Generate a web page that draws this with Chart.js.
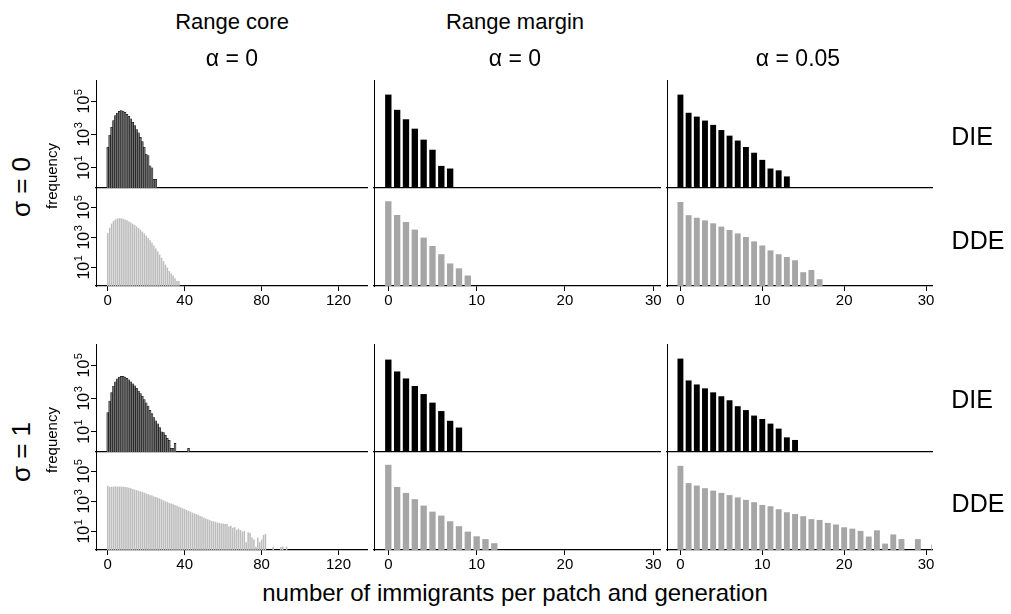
<!DOCTYPE html>
<html>
<head>
<meta charset="utf-8">
<script src="https://cdn.jsdelivr.net/npm/chart.js@4/dist/chart.umd.min.js"></script>
<style>
body { margin: 0; background: #fff; width: 1011px; height: 614px; position: relative; overflow: hidden; font-family: "Liberation Sans", Arial, sans-serif; }
canvas { position: absolute; }
.t { position: absolute; white-space: nowrap; color: #000; z-index: 2; line-height: 1; }
</style>
</head>
<body>
<script>
// tick values / labels
const xTicksCore = [0, 40, 80, 120];
const xTicksMargin = [0, 10, 20, 30];
const yTickValues = [10, 1000, 100000];
const yTickLabels = [['10', '1'], ['10', '3'], ['10', '5']];  // base, exponent

// frequency of each number of immigrants (index = immigrants), sigma = 0
const dieCoreS0 = [170, 950, 2800, 7100, 14000, 20000, 26000, 28000, 27000, 22000, 17000, 13000, 8900, 5600, 3500, 2000, 1300, 690, 380, 170, 68, 54, 13, 10, 2, 2];
const ddeCoreS0 = [2000, 4500, 8500, 12600, 16000, 18600, 19500, 19500, 18200, 16200, 14100, 12000, 10000, 8300, 6800, 5500, 4300, 3300, 2500, 1900, 1350, 950, 660, 450, 300, 190, 120, 74, 45, 27, 16, 10, 6, 4, 3, 2, 1.3, 1.3];
const dieMarginS0 = [263000, 31600, 8500, 2300, 500, 123, 13, 9];
const ddeMarginS0 = [263000, 32000, 11000, 3400, 1000, 275, 78, 19, 9, 3];
const dieMigS0 = [263000, 21000, 12300, 7100, 3900, 1900, 870, 440, 180, 81, 30, 9, 7, 3];
const ddeMigS0 = [234000, 31000, 21000, 14000, 8900, 5400, 3200, 1900, 1100, 560, 300, 140, 78, 51, 31, 5, 7, 1.7];

// sigma = 1
const dieCoreS1 = [145, 720, 2300, 5800, 10500, 16000, 20000, 22000, 22000, 20000, 16600, 13800, 10500, 7900, 6000, 4200, 2900, 2000, 1400, 870, 550, 350, 200, 126, 72, 46, 30, 18, 10, 9, 6, 4, 3, 1, 1, 2, null, null, null, null, null, null, 1];
const ddeCoreS1 = [11200, 9500, 9800, 10000, 10200, 10200, 10000, 10000, 9800, 9500, 8900, 8300, 7600, 6900, 6300, 5800, 5200, 4800, 4400, 4000, 3500, 3200, 2800, 2500, 2200, 2000, 1800, 1600, 1400, 1200, 1050, 930, 830, 740, 660, 590, 520, 460, 400, 355, 316, 275, 240, 214, 186, 166, 148, 126, 112, 100, 85, 76, 66, 59, 52, 48, 45, 40, 38, 35, 35, 32, 32, 22, 25, 18, 20, 13, 16, 13, 10, 11, 2, 9, 8, 4, 3, 1, 4, 2, 3, 6, 7, null, null, null, 1, null, null, null, 1, 1, null, 1];
const dieMarginS1 = [229000, 44000, 16600, 5800, 1900, 575, 178, 46, 18];
const ddeMarginS1 = [282000, 9500, 3800, 1450, 540, 214, 117, 49, 23, 10, 4.9, 3.2, 1.7];
const dieMigS1 = [263000, 12600, 7200, 4200, 2400, 1400, 800, 350, 204, 95, 59, 31, 15.5, 4.6, 3.2];
const ddeMigS1 = [240000, 17000, 11700, 7800, 5400, 3800, 2700, 1900, 1300, 910, 600, 490, 310, 195, 151, 107, 68, 60, 38, 30, 19.5, 15.8, 11.2, 4.7, 12.3, 1.6, 6.5, 3.2, null, 3.2, null, 1.4];

Chart.defaults.font.family = '"Liberation Sans", Arial, sans-serif';
Chart.defaults.color = '#000';

const panelData = [
    [dieCoreS0, dieMarginS0, dieMigS0],
    [ddeCoreS0, ddeMarginS0, ddeMigS0],
    [dieCoreS1, dieMarginS1, dieMigS1],
    [ddeCoreS1, ddeMarginS1, ddeMigS1]
];

// bar styles per column
const dieStyle = [
    {bg: '#6e6e6e', border: '#000', bw: 0.5, pct: 1},
    {bg: '#000', border: '#000', bw: 0, pct: 0.72},
    {bg: '#000', border: '#000', bw: 0, pct: 0.72}
];
const ddeStyle = [
    {bg: '#bdbdbd', border: '#bdbdbd', bw: 0, pct: 0.8},
    {bg: '#a6a6a6', border: '#a6a6a6', bw: 0, pct: 0.72},
    {bg: '#a6a6a6', border: '#a6a6a6', bw: 0, pct: 0.72}
];
// plot areas in page pixels
const rows = [
    {top: 80, h: 108, xLabels: false, style: dieStyle},
    {top: 188, h: 98, xLabels: true, style: ddeStyle},
    {top: 344, h: 108, xLabels: false, style: dieStyle},
    {top: 452, h: 98, xLabels: true, style: ddeStyle}
];
const cols = [
    {left: 96, w: 271, min: -6.1, max: 134.8, ticks: xTicksCore, yLabels: true},
    {left: 374, w: 286, min: -1.62, max: 30.76, ticks: xTicksMargin, yLabels: false},
    {left: 667, w: 265, min: -1.64, max: 30.73, ticks: xTicksMargin, yLabels: false}
];

// rotated "10^k" labels drawn at the log scale's tick positions
const powerLabels = {
    id: 'powerLabels',
    afterDraw(chart, args, opts) {
        if (!opts.show) return;
        const s = chart.scales.y, ctx = chart.ctx;
        const baseX = s.right - 7;   // text baseline (screen x)
        ctx.save();
        ctx.fillStyle = '#000';
        ctx.textBaseline = 'alphabetic';
        ctx.textAlign = 'left';
        yTickValues.forEach((v, i) => {
            const [b, e] = yTickLabels[i];
            ctx.font = '16px "Liberation Sans", Arial';
            const w1 = ctx.measureText(b).width;
            ctx.font = '11px "Liberation Sans", Arial';
            const w2 = ctx.measureText(e).width;
            ctx.save();
            ctx.translate(baseX, s.getPixelForValue(v));
            ctx.rotate(-Math.PI / 2);
            const x0 = -(w1 + w2) / 2;
            ctx.font = '16px "Liberation Sans", Arial';
            ctx.fillText(b, x0, 0);
            ctx.font = '11px "Liberation Sans", Arial';
            ctx.fillText(e, x0 + w1 + 0.5, -7.5);
            ctx.restore();
        });
        ctx.restore();
    }
};

function drawPanel(ri, ci) {
    const row = rows[ri], col = cols[ci], st = row.style[ci];
    const padL = col.yLabels ? 44 : 4, padR = 15, padT = 12, padB = row.xLabels ? 26 : 12;
    const cv = document.createElement('canvas');
    cv.width = col.w + padL + padR;
    cv.height = row.h + padT + padB;
    cv.style.left = (col.left - padL) + 'px';
    cv.style.top = (row.top - padT) + 'px';
    document.body.appendChild(cv);

    const points = [];
    panelData[ri][ci].forEach((v, i) => {
        if (v != null) points.push({x: i, y: v});
    });

    new Chart(cv, {
        type: 'bar',
        data: {
            datasets: [{
                data: points,
                backgroundColor: st.bg,
                borderColor: st.border,
                borderWidth: st.bw,
                borderSkipped: 'start',
                categoryPercentage: 1,
                barPercentage: st.pct
            }]
        },
        options: {
            responsive: false,
            animation: false,
            layout: {padding: {left: 0, right: padR, top: padT, bottom: 0}},
            plugins: {legend: {display: false}, tooltip: {enabled: false}, powerLabels: {show: col.yLabels}},
            scales: {
                x: {
                    type: 'linear', min: col.min, max: col.max, bounds: 'data', offset: false,
                    afterBuildTicks: s => { s.ticks = col.ticks.map(v => ({value: v})); },
                    afterFit: s => { s.height = padB; },
                    grid: {display: row.xLabels, offset: false, drawOnChartArea: false, drawTicks: true, tickLength: 5, color: '#000'},
                    border: {display: true, color: '#000', width: 1.3},
                    ticks: {display: row.xLabels, font: {size: 15}, padding: 1, maxRotation: 0, autoSkip: false, color: '#000'}
                },
                y: {
                    type: 'logarithmic', min: 0.6, max: 2e6, bounds: 'data', beginAtZero: false,
                    afterBuildTicks: s => { s.ticks = yTickValues.map(v => ({value: v})); },
                    afterFit: s => { s.width = padL; },
                    grid: {display: col.yLabels, drawOnChartArea: false, drawTicks: true, tickLength: 5, color: '#000'},
                    border: {display: true, color: '#000', width: 1},
                    ticks: {display: false}
                }
            }
        },
        plugins: [powerLabels]
    });
}

for (let r = 0; r < 4; r++) {
    for (let c = 0; c < 3; c++) drawPanel(r, c);
}

function label(text, x, y, size, rotate) {
    const d = document.createElement('div');
    d.className = 't';
    d.textContent = text;
    d.style.left = x + 'px';
    d.style.top = y + 'px';
    d.style.fontSize = size + 'px';
    d.style.transform = 'translate(-50%, -50%)' + (rotate ? ' rotate(-90deg)' : '');
    document.body.appendChild(d);
}

label('Range core', 232, 22, 22);
label('Range margin', 515, 22, 22);
label('α = 0', 232, 58, 23);
label('α = 0', 515, 58, 23);
label('α = 0.05', 798, 58, 23);
label('DIE', 972, 136, 25);
label('DDE', 978, 240, 25);
label('DIE', 972, 399, 25);
label('DDE', 978, 503, 25);
label('σ = 0', 21, 187, 26, true);
label('σ = 1', 21, 452, 26, true);
label('frequency', 51, 176, 15, true);
label('frequency', 51, 440, 15, true);
label('number of immigrants per patch and generation', 515, 593, 24);
</script>
</body>
</html>
